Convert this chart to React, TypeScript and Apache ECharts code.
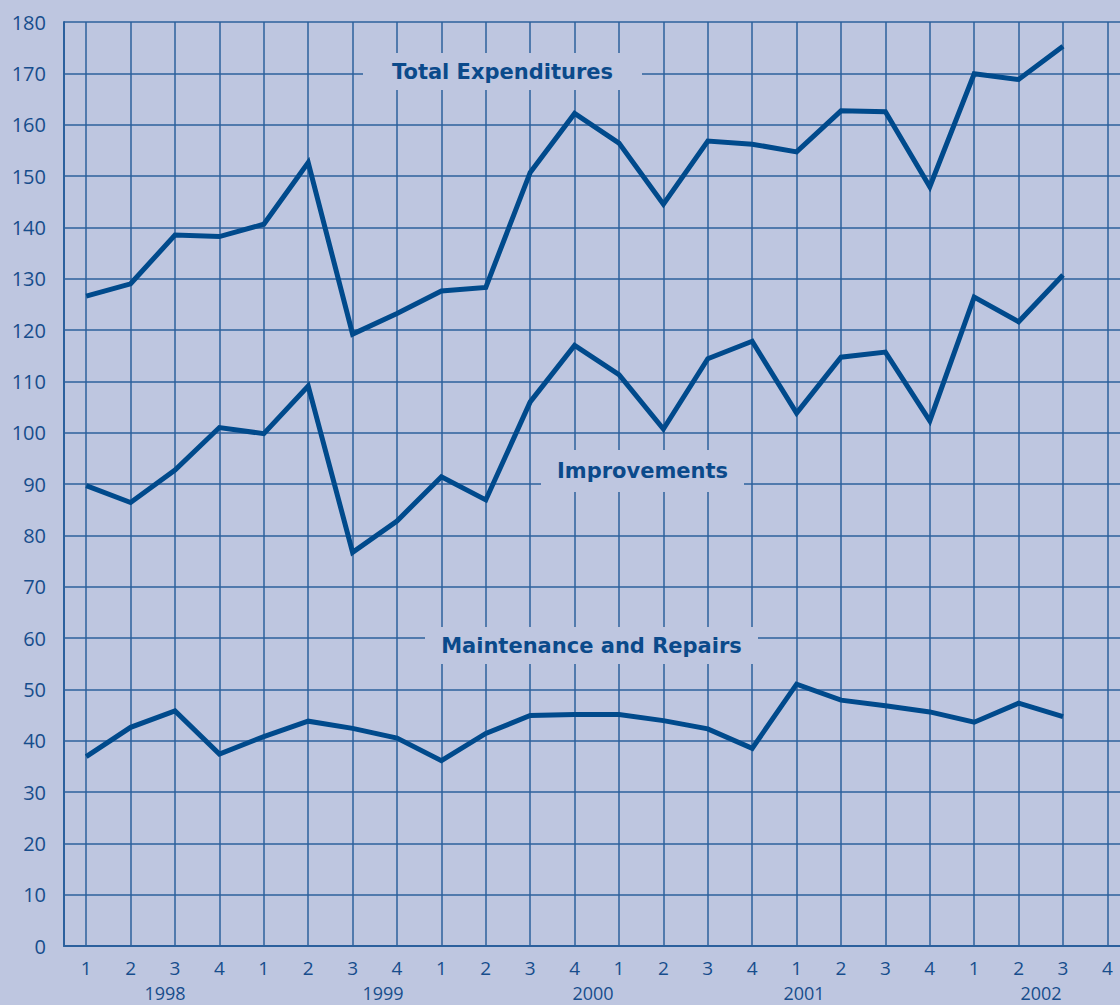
import React, { useEffect, useRef } from "react";
import * as echarts from "echarts";

const quarters = ["1","2","3","4","1","2","3","4","1","2","3","4","1","2","3","4","1","2","3","4","1","2","3","4"];
const yearLabels = ["1998", "1999", "2000", "2001", "2002"];
const yearLabelX = [165, 383, 593, 804, 1041];

const totalExpenditures = [126.6, 129.0, 138.5, 138.2, 140.6, 152.6, 119.2, 123.2, 127.6, 128.3, 150.7, 162.2, 156.4, 144.5, 156.8, 156.2, 154.7, 162.7, 162.5, 147.9, 169.9, 168.8, 175.3];
const improvements = [89.7, 86.4, 92.7, 101.0, 99.8, 109.1, 76.7, 82.8, 91.4, 86.9, 106.0, 117.0, 111.3, 100.7, 114.4, 117.8, 103.8, 114.7, 115.7, 102.3, 126.4, 121.6, 130.7];
const maintenance = [36.9, 42.6, 45.8, 37.4, 40.8, 43.8, 42.4, 40.5, 36.1, 41.4, 44.9, 45.1, 45.1, 43.9, 42.3, 38.5, 51.0, 47.9, 46.8, 45.6, 43.6, 47.3, 44.7];

const BG = "#bec6e0";
const GRID = "#2c609d";
const LINE = "#004a8c";
const TEXT = "#174d8c";

export default function App() {
  const ref = useRef<HTMLDivElement>(null);
  useEffect(() => {
    if (!ref.current) return;
    const chart = echarts.init(ref.current, undefined, { renderer: "svg" });
    const lineSeries = (name: string, data: number[]) => ({
      name,
      type: "line",
      data,
      symbol: "none",
      z: 5,
      lineStyle: { color: LINE, width: 5, join: "miter" },
      silent: true,
    });
    const labelBox = (text: string, x1: number, x2: number, y1: number, y2: number) => [
      {
        type: "rect",
        z: 100,
        shape: { x: x1, y: y1, width: x2 - x1, height: y2 - y1 },
        style: { fill: BG },
      },
      {
        type: "text",
        z: 101,
        x: (x1 + x2) / 2,
        y: (y1 + y2) / 2,
        style: {
          text,
          fill: "#0b4a8b",
          font: "bold 21px 'DejaVu Sans'",
          textAlign: "center",
          textVerticalAlign: "middle",
        },
      },
    ];
    chart.setOption({
      animation: false,
      backgroundColor: BG,
      grid: { left: 64, right: 10.4, top: 22, bottom: 59, containLabel: false },
      xAxis: {
        type: "category",
        data: quarters,
        boundaryGap: true,
        axisLine: { show: true, lineStyle: { color: GRID, width: 2 } },
        axisTick: { show: false },
        splitLine: { show: false },
        axisLabel: { color: TEXT, fontSize: 19, fontFamily: "'Open Sans'", margin: 12, interval: 0 },
      },
      yAxis: {
        type: "value",
        min: 0,
        max: 180,
        interval: 10,
        axisLine: { show: true, lineStyle: { color: GRID, width: 2 } },
        axisTick: { show: false },
        splitLine: { show: true, lineStyle: { color: GRID, width: 1.5 } },
        axisLabel: { color: TEXT, fontSize: 20, fontFamily: "'Open Sans'", margin: 18 },
      },
      series: [
        {
          name: "grid",
          type: "line",
          data: [],
          z: 1,
          silent: true,
          markLine: {
            silent: true,
            symbol: ["none", "none"],
            label: { show: false },
            lineStyle: { color: GRID, width: 1.5, type: "solid" },
            emphasis: { disabled: true },
            data: quarters.map((_, i) => ({ xAxis: i })),
          },
        },
        lineSeries("Total Expenditures", totalExpenditures),
        lineSeries("Improvements", improvements),
        lineSeries("Maintenance and Repairs", maintenance),
      ],
      graphic: [
        ...labelBox("Total Expenditures", 363, 642, 53, 90),
        ...labelBox("Improvements", 541, 744, 450, 492),
        ...labelBox("Maintenance and Repairs", 425, 758, 627, 664),
        ...yearLabels.map((t, i) => ({
          type: "text",
          z: 100,
          x: yearLabelX[i],
          y: 993,
          style: {
            text: t,
            fill: TEXT,
            font: "18px 'Open Sans'",
            textAlign: "center",
            textVerticalAlign: "middle",
          },
        })),
      ],
    });
    return () => chart.dispose();
  }, []);
  return (
    <div style={{ position: "absolute", left: 0, top: 0, width: 1120, height: 1005, overflow: "hidden", background: BG }}>
      <div ref={ref} style={{ width: 1140, height: 1005 }} />
    </div>
  );
}
